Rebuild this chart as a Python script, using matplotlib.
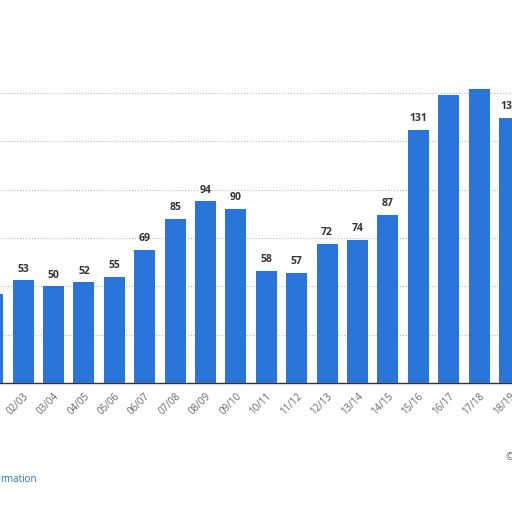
import numpy as np
from matplotlib import pyplot as plt

seasons = ['01/02', '02/03', '03/04', '04/05', '05/06', '06/07', '07/08', '08/09',
           '09/10', '10/11', '11/12', '12/13', '13/14', '14/15', '15/16', '16/17',
           '17/18', '18/19']
values = [46, 53, 50, 52, 55, 69, 85, 94, 90, 58, 57, 72, 74, 87, 131, 149, 152, 137]
yticks = [0, 25, 50, 75, 100, 125, 150]

plt.rcParams['font.family'] = ['Open Sans', 'DejaVu Sans']

fig = plt.figure(figsize=(5.12, 5.12), dpi=100)
# chart is cropped: axes run past the left and right edges of the figure
ax = fig.add_axes([-0.044, 0.252, 1.069, 0.576])

x = np.arange(len(seasons))
ax.bar(x, values, width=0.69, color='#2a75d9', zorder=3)

# first season sits mostly off the picture, its labels are not shown
for xi, v in zip(x[1:], values[1:]):
    ax.annotate(str(v), (xi, v), xytext=(0, 4), textcoords='offset points',
                ha='center', va='bottom', fontsize=7.5, fontweight='bold',
                color='#333333', annotation_clip=True, clip_on=True)

ax.set_xlim(-0.5, len(seasons) - 0.5)
ax.set_ylim(0, 152.5)
ax.set_yticks(yticks)
ax.set_yticklabels([])
ax.tick_params(axis='y', length=0)
ax.grid(axis='y', linestyle=':', color='#bbbbbb', linewidth=0.8, zorder=0)

ax.set_xticks(x)
ax.set_xticklabels([''] + seasons[1:], rotation=45, ha='right', rotation_mode='anchor',
                   fontsize=7, color='#666666')
ax.tick_params(axis='x', length=0, pad=6)

for s in ['top', 'right', 'left']:
    ax.spines[s].set_visible(False)
ax.spines['bottom'].set_color('#333333')
ax.spines['bottom'].set_linewidth(1)

fig.text(0.0, 0.064, 'rmation', color='#1a7bbf', fontsize=7, va='center', ha='left')
fig.text(0.987, 0.107, '©', color='#666666', fontsize=7, va='center', ha='left')

fig.savefig('out.png', dpi=100)
